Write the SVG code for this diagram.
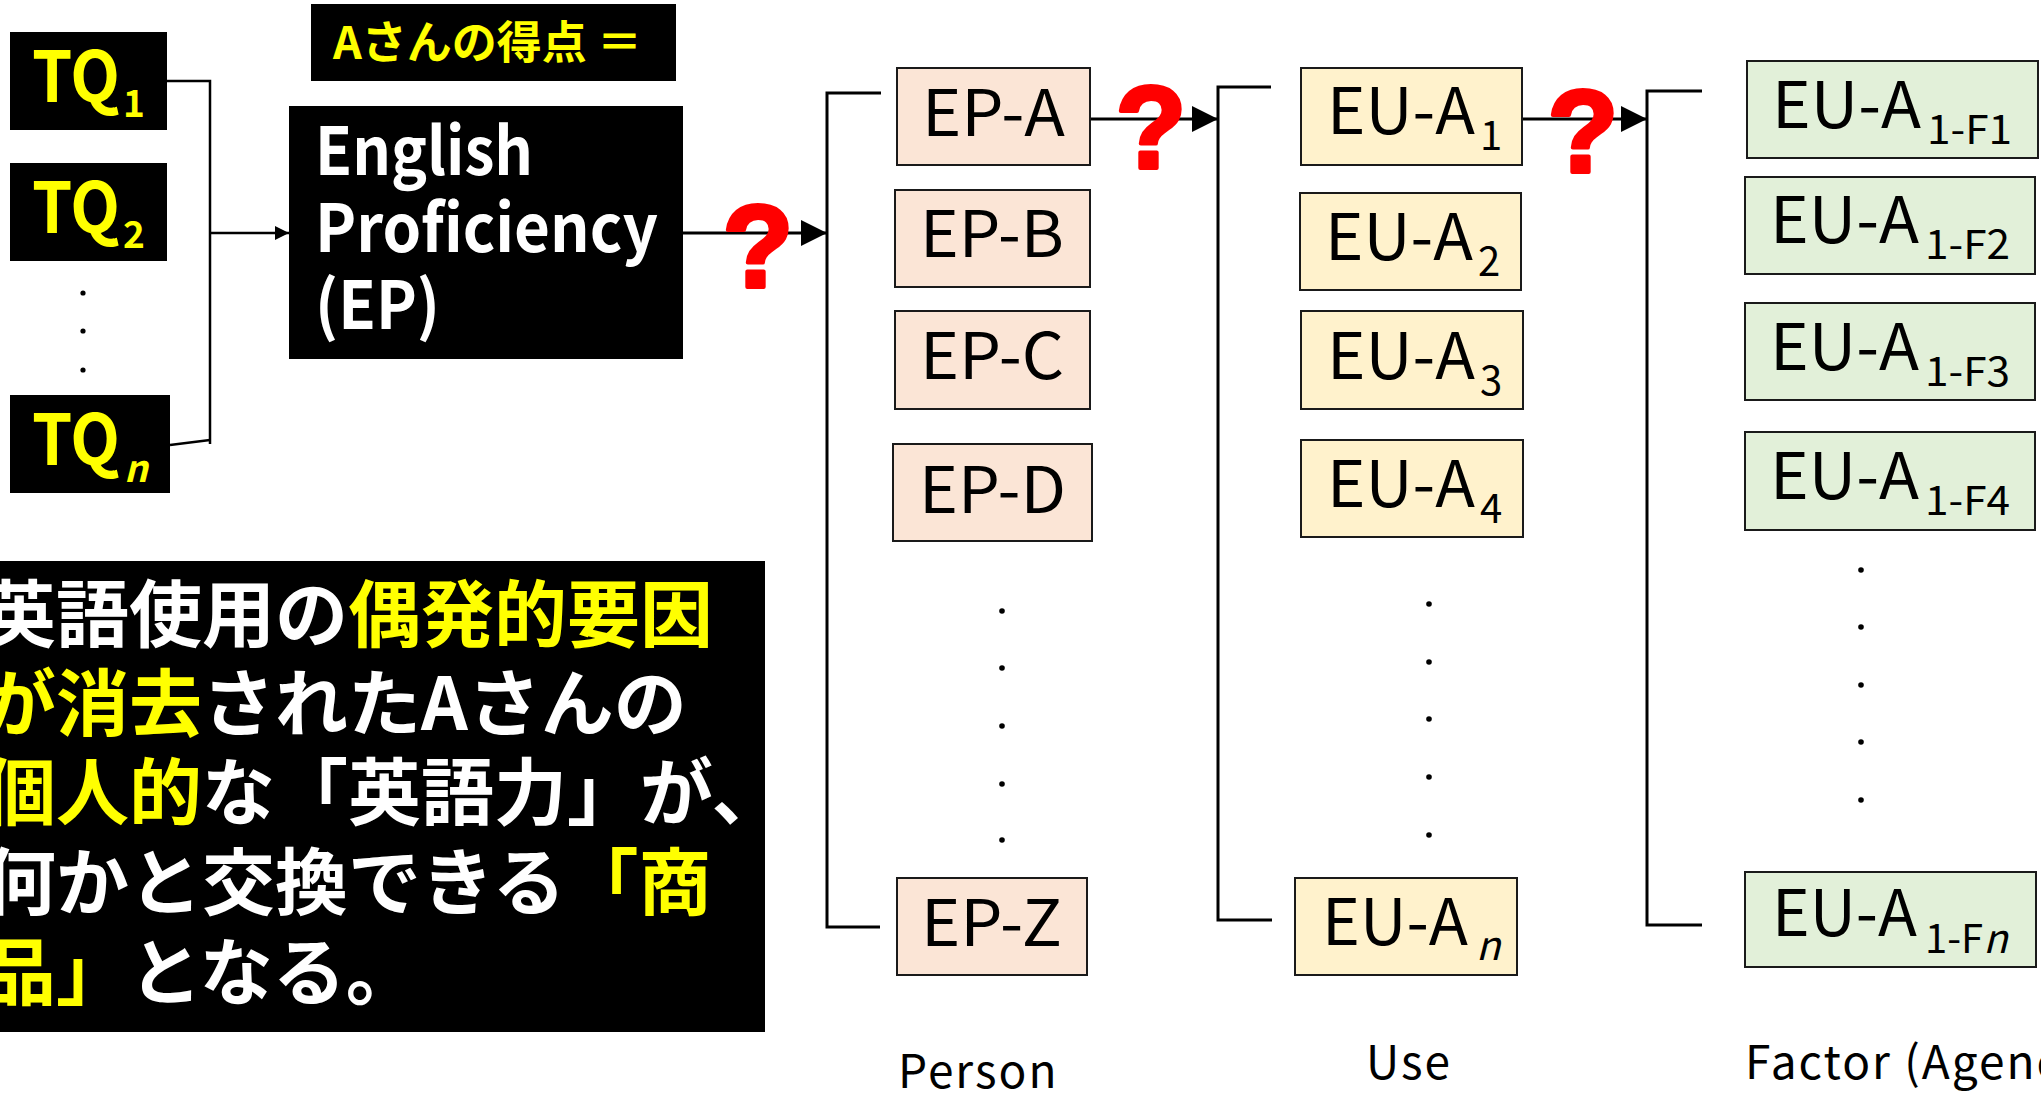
<svg xmlns="http://www.w3.org/2000/svg" width="2041" height="1095" viewBox="0 0 2041 1095">
<style>
  .blk{fill:#000}
  .ep{fill:#FBE5D6;stroke:#1a1a1a;stroke-width:2}
  .eu{fill:#FFF2CC;stroke:#1a1a1a;stroke-width:2}
  .ft{fill:#E2F0D9;stroke:#1a1a1a;stroke-width:2}
  .lab{font-family:"Noto Sans CJK JP","Noto Sans",sans-serif;font-size:64px;fill:#000}
  .sub{font-family:"Noto Sans CJK JP","Noto Sans",sans-serif;font-size:40px;fill:#000}
  .tq{font-family:"Noto Sans CJK JP","Noto Sans",sans-serif;font-weight:700;font-size:70px;fill:#FFFF00}
  .tqs{font-family:"Noto Sans CJK JP","Noto Sans",sans-serif;font-weight:700;font-size:37px;fill:#FFFF00}
  .jp{font-family:"Noto Sans CJK JP",sans-serif;font-weight:700;font-size:73px;fill:#fff}
  .y{fill:#FFFF00}
  .q{font-family:"Liberation Sans",Arial,sans-serif;font-weight:700;font-size:116px;fill:#FF0000;stroke:#FF0000;stroke-width:4;stroke-linejoin:round;text-anchor:middle}
  .cap{font-family:"Noto Sans CJK JP","Noto Sans",sans-serif;font-size:46px;fill:#000;letter-spacing:2px}
  .ln{fill:none;stroke:#000;stroke-width:3}
  .lt{fill:none;stroke:#000;stroke-width:2.5}
  .dot{fill:#000}
</style>
<defs>
  <marker id="arr" viewBox="0 0 26 26" refX="26" refY="13" markerWidth="26" markerHeight="26" markerUnits="userSpaceOnUse" orient="auto">
    <path d="M0,0 L26,13 L0,26 Z" fill="#000"/>
  </marker>
  <marker id="arrS" viewBox="0 0 14 14" refX="14" refY="7" markerWidth="14" markerHeight="14" markerUnits="userSpaceOnUse" orient="auto">
    <path d="M0,0 L14,7 L0,14 Z" fill="#000"/>
  </marker>
</defs>

<g id="connectors">
  <path class="lt" d="M167,81 H210 V444"/>
  <path class="lt" d="M170,445 L210,440"/>
  <path class="lt" d="M210,233 H289" marker-end="url(#arrS)"/>
  <path class="ln" d="M683,233 H827" marker-end="url(#arr)"/>
  <path class="ln" d="M881,93 H827 V927 H880"/>
  <path class="ln" d="M1070,119 H1218" marker-end="url(#arr)"/>
  <path class="ln" d="M1271,87 H1218 V920 H1272"/>
  <path class="ln" d="M1517,119 H1647" marker-end="url(#arr)"/>
  <path class="ln" d="M1702,91 H1647 V925 H1702"/>
</g>

<g id="tq1">
  <rect class="blk" x="10" y="32" width="157" height="98"/>
  <text class="tq" x="32" y="102" textLength="88" lengthAdjust="spacingAndGlyphs">TQ</text>
  <text class="tqs" x="123" y="117">1</text>
</g>
<g id="tq2">
  <rect class="blk" x="10" y="163" width="157" height="98"/>
  <text class="tq" x="32" y="233" textLength="88" lengthAdjust="spacingAndGlyphs">TQ</text>
  <text class="tqs" x="123" y="248">2</text>
</g>
<g id="tq-dots">
  <circle class="dot" cx="83" cy="293" r="2.6"/>
  <circle class="dot" cx="83" cy="331" r="2.6"/>
  <circle class="dot" cx="83" cy="370" r="2.6"/>
</g>
<g id="tqn">
  <rect class="blk" x="10" y="395" width="160" height="98"/>
  <text class="tq" x="32" y="465" textLength="88" lengthAdjust="spacingAndGlyphs">TQ</text>
  <text class="tqs" x="124" y="482" font-style="italic">n</text>
</g>

<g id="score-label">
  <rect class="blk" x="311" y="4" width="365" height="77"/>
  <text x="333" y="59" font-family="Noto Sans CJK JP, sans-serif" font-weight="700" font-size="45" fill="#FFFF00">Aさんの得点 ＝</text>
</g>

<g id="ep">
  <rect class="blk" x="289" y="106" width="394" height="253"/>
  <g font-family="Noto Sans CJK JP, Noto Sans, sans-serif" font-weight="700" font-size="66" fill="#fff">
    <text x="315" y="175" textLength="218" lengthAdjust="spacingAndGlyphs">English</text>
    <text x="315" y="252" textLength="343" lengthAdjust="spacingAndGlyphs">Proficiency</text>
    <text x="315" y="329" textLength="125" lengthAdjust="spacingAndGlyphs">(EP)</text>
  </g>
</g>

<g id="ep-a"><rect class="ep" x="897" y="68" width="193" height="97"/><text class="lab" x="922" y="136" textLength="143" lengthAdjust="spacingAndGlyphs">EP-A</text></g>
<g id="ep-b"><rect class="ep" x="895" y="190" width="195" height="97"/><text class="lab" x="920" y="257" textLength="144" lengthAdjust="spacingAndGlyphs">EP-B</text></g>
<g id="ep-c"><rect class="ep" x="895" y="311" width="195" height="98"/><text class="lab" x="920" y="379" textLength="144" lengthAdjust="spacingAndGlyphs">EP-C</text></g>
<g id="ep-d"><rect class="ep" x="893" y="444" width="199" height="97"/><text class="lab" x="919" y="513" textLength="147" lengthAdjust="spacingAndGlyphs">EP-D</text></g>
<g id="ep-dots">
  <circle class="dot" cx="1002" cy="611" r="2.8"/>
  <circle class="dot" cx="1002" cy="668" r="2.8"/>
  <circle class="dot" cx="1002" cy="726" r="2.8"/>
  <circle class="dot" cx="1002" cy="784" r="2.8"/>
  <circle class="dot" cx="1002" cy="840" r="2.8"/>
</g>
<g id="ep-z"><rect class="ep" x="897" y="878" width="190" height="97"/><text class="lab" x="921" y="946" textLength="141" lengthAdjust="spacingAndGlyphs">EP-Z</text></g>

<g id="eu-a1"><rect class="eu" x="1301" y="68" width="221" height="97"/><text class="lab" x="1327" y="134" textLength="148" lengthAdjust="spacingAndGlyphs">EU-A</text><text class="sub" x="1480" y="150">1</text></g>
<g id="eu-a2"><rect class="eu" x="1300" y="193" width="221" height="97"/><text class="lab" x="1325" y="260" textLength="148" lengthAdjust="spacingAndGlyphs">EU-A</text><text class="sub" x="1478" y="276">2</text></g>
<g id="eu-a3"><rect class="eu" x="1301" y="311" width="222" height="98"/><text class="lab" x="1327" y="379" textLength="148" lengthAdjust="spacingAndGlyphs">EU-A</text><text class="sub" x="1480" y="395">3</text></g>
<g id="eu-a4"><rect class="eu" x="1301" y="440" width="222" height="97"/><text class="lab" x="1327" y="507" textLength="148" lengthAdjust="spacingAndGlyphs">EU-A</text><text class="sub" x="1480" y="523">4</text></g>
<g id="eu-dots">
  <circle class="dot" cx="1429" cy="604" r="2.8"/>
  <circle class="dot" cx="1429" cy="662" r="2.8"/>
  <circle class="dot" cx="1429" cy="719" r="2.8"/>
  <circle class="dot" cx="1429" cy="777" r="2.8"/>
  <circle class="dot" cx="1429" cy="835" r="2.8"/>
</g>
<g id="eu-an"><rect class="eu" x="1295" y="878" width="222" height="97"/><text class="lab" x="1322" y="945" textLength="146" lengthAdjust="spacingAndGlyphs">EU-A</text><text class="sub" x="1476" y="960" font-style="italic">n</text></g>

<g id="f1"><rect class="ft" x="1747" y="61" width="291" height="97"/><text class="lab" x="1772" y="128" textLength="149" lengthAdjust="spacingAndGlyphs">EU-A</text><text class="sub" x="1927" y="144" textLength="85" lengthAdjust="spacingAndGlyphs">1-F1</text></g>
<g id="f2"><rect class="ft" x="1745" y="177" width="290" height="97"/><text class="lab" x="1770" y="243" textLength="149" lengthAdjust="spacingAndGlyphs">EU-A</text><text class="sub" x="1925" y="259" textLength="85" lengthAdjust="spacingAndGlyphs">1-F2</text></g>
<g id="f3"><rect class="ft" x="1745" y="303" width="290" height="97"/><text class="lab" x="1770" y="370" textLength="149" lengthAdjust="spacingAndGlyphs">EU-A</text><text class="sub" x="1925" y="386" textLength="85" lengthAdjust="spacingAndGlyphs">1-F3</text></g>
<g id="f4"><rect class="ft" x="1745" y="432" width="290" height="98"/><text class="lab" x="1770" y="499" textLength="149" lengthAdjust="spacingAndGlyphs">EU-A</text><text class="sub" x="1925" y="515" textLength="85" lengthAdjust="spacingAndGlyphs">1-F4</text></g>
<g id="f-dots">
  <circle class="dot" cx="1861" cy="570" r="2.8"/>
  <circle class="dot" cx="1861" cy="627" r="2.8"/>
  <circle class="dot" cx="1861" cy="685" r="2.8"/>
  <circle class="dot" cx="1861" cy="742" r="2.8"/>
  <circle class="dot" cx="1861" cy="800" r="2.8"/>
</g>
<g id="fn"><rect class="ft" x="1745" y="872" width="291" height="95"/><text class="lab" x="1772" y="936" textLength="145" lengthAdjust="spacingAndGlyphs">EU-A</text><text class="sub" x="1925" y="953">1-F<tspan font-style="italic">n</tspan></text></g>

<g id="question-marks">
  <text class="q" x="758" y="287">?</text>
  <text class="q" x="1151" y="168">?</text>
  <text class="q" x="1583" y="172">?</text>
</g>

<g id="note">
  <rect class="blk" x="-10" y="561" width="775" height="471"/>
  <text class="jp" x="-17" y="641">英語使用の<tspan class="y">偶発的要因</tspan></text>
  <text class="jp" x="-17" y="730"><tspan class="y">が消去</tspan>されたAさんの</text>
  <text class="jp" x="-17" y="819"><tspan class="y">個人的</tspan>な「英語力」が、</text>
  <text class="jp" x="-17" y="909">何かと交換できる<tspan class="y">「商</tspan></text>
  <text class="jp" x="-17" y="999"><tspan class="y">品」</tspan>となる。</text>
</g>

<g id="axis-labels">
  <text class="cap" x="898" y="1088">Person</text>
  <text class="cap" x="1366" y="1079">Use</text>
  <text class="cap" x="1745" y="1079">Factor (Agency)</text>
</g>
</svg>
